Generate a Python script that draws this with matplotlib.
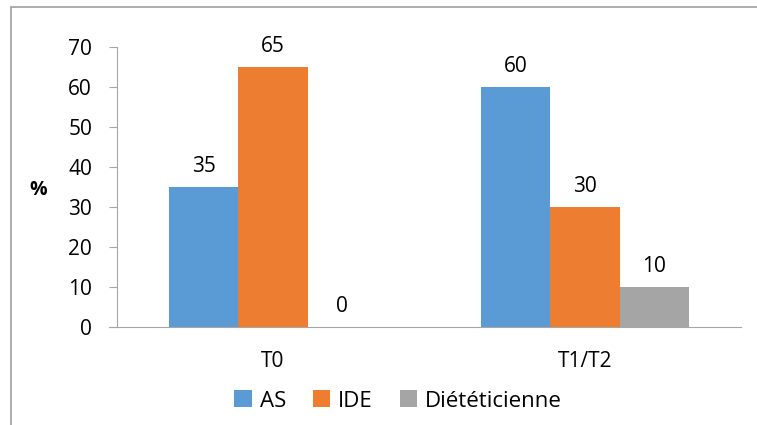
import numpy as np
import matplotlib.pyplot as plt
from matplotlib.patches import Rectangle

categories = ["T0", "T1/T2"]
series_names = ["AS", "IDE", "Diététicienne"]
as_values = [35, 60]
ide_values = [65, 30]
diet_values = [0, 10]
colors = ["#5b9bd5", "#ed7d31", "#a5a5a5"]

plt.rcParams['font.family'] = ['Open Sans', 'DejaVu Sans']

fig = plt.figure(figsize=(7.57, 4.25), dpi=100)
ax = fig.add_axes([117/757, 1 - 327/425, (741 - 117)/757, (327 - 47)/425])

x = np.arange(len(categories))
w = 1 / 4.5
all_vals = [as_values, ide_values, diet_values]
for i, (vals, name, c) in enumerate(zip(all_vals, series_names, colors)):
    pos = x + (i - 1) * w
    ax.bar(pos, vals, width=w, color=c, label=name)
    for p, v in zip(pos, vals):
        ax.text(p, v + 5.2, str(v), ha='center', va='center', fontsize=15)

ax.set_xlim(-0.5, 1.5)
ax.set_ylim(0, 70)
ax.set_yticks(range(0, 71, 10))
ax.set_xticks(x)
ax.set_xticklabels(categories)
ax.tick_params(axis='y', labelsize=15, length=6, color='#a6a6a6', pad=12)
ax.tick_params(axis='x', labelsize=15, length=0, pad=17)
for s in ['top', 'right']:
    ax.spines[s].set_visible(False)
for s in ['left', 'bottom']:
    ax.spines[s].set_color('#a6a6a6')
ax.spines['bottom'].set_bounds(-0.526, 1.5)
ax.spines['bottom'].set_position(('data', 0))
ax.set_clip_on(False)

fig.text(38/757, 1 - 190/425, "%", fontsize=14, fontweight='bold', ha='center', va='center')

leg = fig.legend(loc='center', bbox_to_anchor=(398/757, 1 - 401/425), ncol=3,
                 frameon=False, fontsize=16, handlelength=0.8, handleheight=0.8,
                 handletextpad=0.35, columnspacing=1.2)

fig.patches.append(Rectangle((11/757, -0.1), 1.2, 1 - 7/425 + 0.1,
                             transform=fig.transFigure, fill=False,
                             edgecolor='#a0a0a0', linewidth=1.2))

fig.savefig("out.png", dpi=100)
